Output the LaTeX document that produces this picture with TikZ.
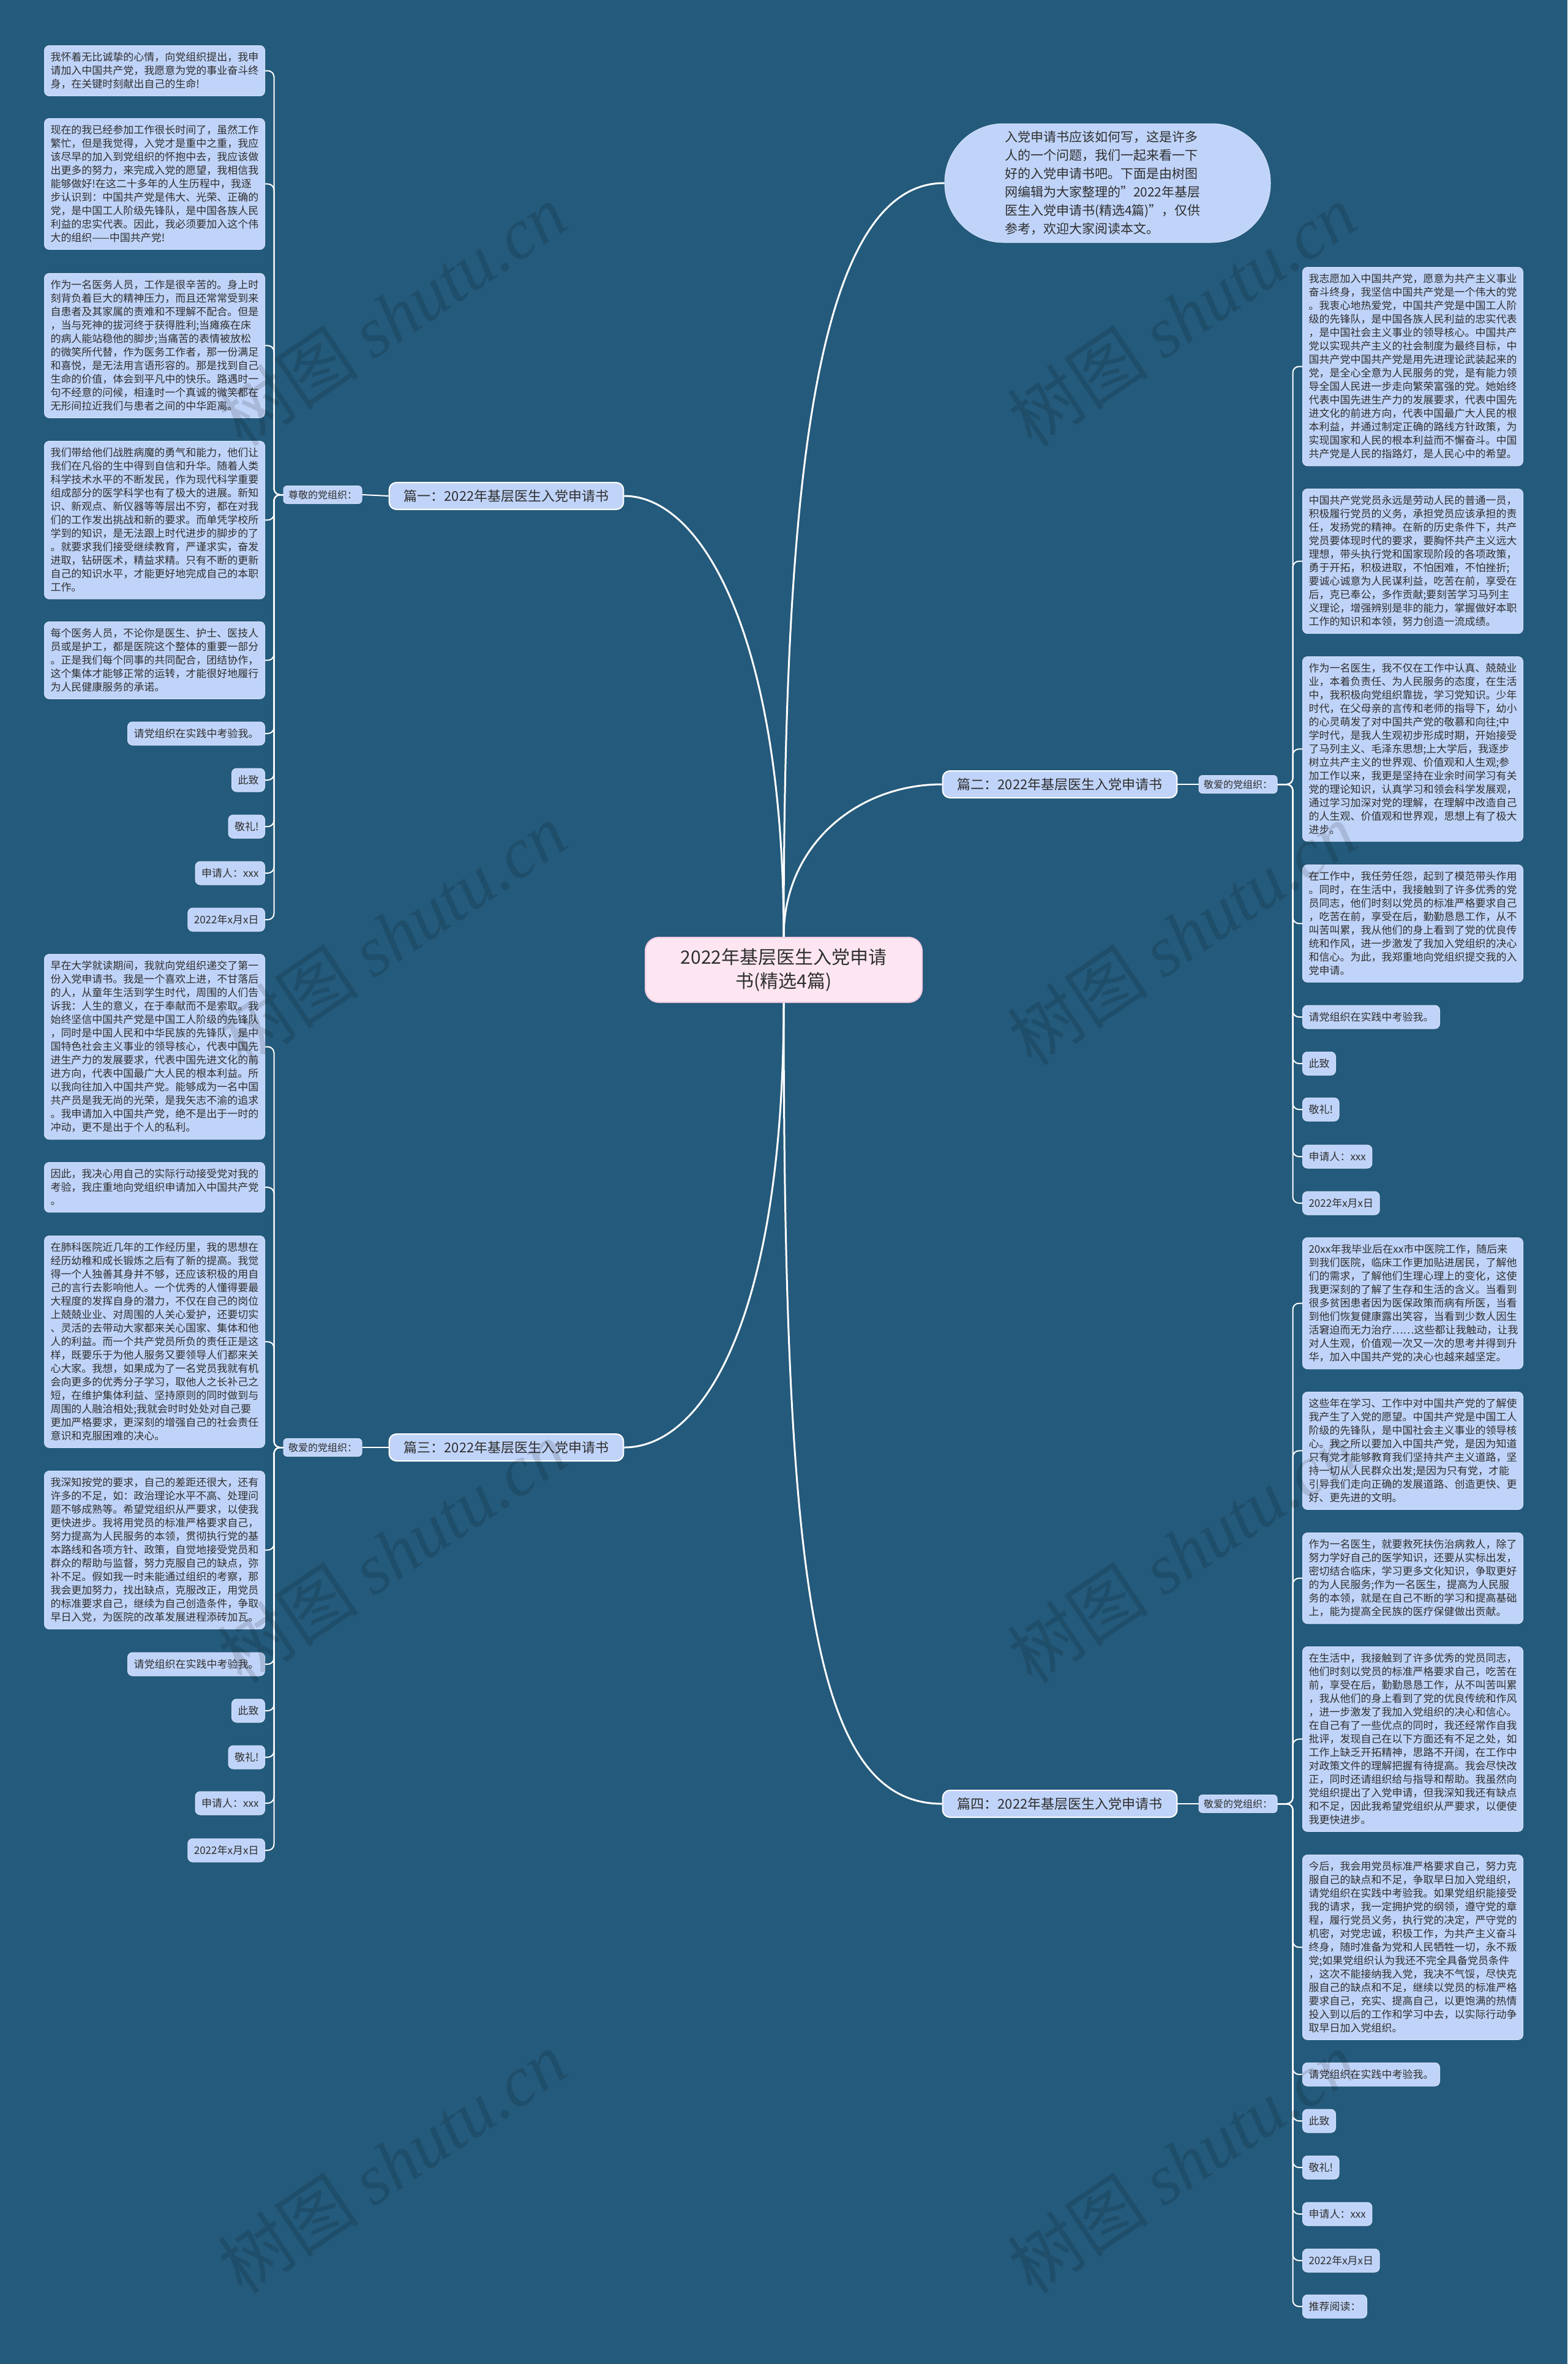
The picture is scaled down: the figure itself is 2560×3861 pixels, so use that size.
\documentclass[tikz,border=0pt]{standalone}
\usepackage{fontspec}
\setmainfont{Noto Sans CJK SC}
\newfontfamily\wmserif{Liberation Serif}
\definecolor{bgblue}{HTML}{245A7B}
\definecolor{boxblue}{HTML}{C0D4F9}
\definecolor{boxline}{HTML}{D3E1FB}
\definecolor{rootpink}{HTML}{FDE6F2}
\definecolor{rootedge}{HTML}{F3CBE0}
\definecolor{inkgray}{HTML}{2F2F2F}

\begin{document}
\begin{tikzpicture}[x=0.5pt, y=-0.5pt,
    textblock/.style={fill=boxblue, draw=boxline, line width=0.5pt, rounded corners=4pt,
      text=inkgray, font=\fontsize{8.5}{11}\selectfont, text width=170pt, align=left,
      inner xsep=5pt, inner ysep=5.5pt},
    closer/.style={fill=boxblue, draw=boxline, line width=0.5pt, rounded corners=4pt,
      text=inkgray, font=\fontsize{8.5}{11}\selectfont, inner xsep=5pt, inner ysep=3pt,
      minimum height=19pt},
    topic/.style={fill=boxblue, draw=white, line width=1pt, rounded corners=6pt,
      text=inkgray, font=\fontsize{11}{13}\selectfont, inner xsep=12pt, minimum height=22pt},
    dear/.style={fill=boxblue, draw=boxline, line width=0.5pt, rounded corners=3pt,
      text=inkgray, font=\fontsize{8}{10}\selectfont, inner xsep=4pt, inner ysep=2pt,
      minimum height=14.5pt},
    rootbox/.style={fill=rootpink, draw=rootedge, line width=1pt, rounded corners=11pt,
      text=inkgray, font=\fontsize{15}{19.5}\selectfont, align=center,
      minimum width=226pt, minimum height=53pt},
    introbox/.style={fill=boxblue, draw=boxline, line width=0.5pt, rounded corners=48pt,
      text=inkgray, font=\fontsize{10.5}{15}\selectfont, text width=168pt, align=left,
      minimum width=266pt, minimum height=97pt},
    stemline/.style={draw=white, line width=1.5pt},
    twigline/.style={draw=white, line width=1pt, rounded corners=5pt},
    wmark/.style={text=black, text opacity=0.13, rotate=34, font=\fontsize{58}{58}\selectfont}]

    % Background
    \path[fill=bgblue, use as bounding box] (0,0) rectangle (2560,3861);

    % Root and intro
    \node[rootbox] (root) at (1280,1584) {2022年基层医生入党申请\\书(精选4篇)};
    \node[introbox] (intro) at (1809,299) {入党申请书应该如何写，这是许多\\人的一个问题，我们一起来看一下\\好的入党申请书吧。下面是由树图\\网编辑为大家整理的"2022年基层\\医生入党申请书(精选4篇)"，仅供\\参考，欢迎大家阅读本文。};

    % Topics
    \node[topic] (part1) at (827,810) {篇一：2022年基层医生入党申请书};
    \node[topic] (part2) at (1731,1281) {篇二：2022年基层医生入党申请书};
    \node[topic] (part3) at (827,2364) {篇三：2022年基层医生入党申请书};
    \node[topic] (part4) at (1731,2946) {篇四：2022年基层医生入党申请书};

    \node[dear] (dear1) at (527,808) {尊敬的党组织：};
    \node[dear] (dear2) at (2022,1281) {敬爱的党组织：};
    \node[dear] (dear3) at (527,2364) {敬爱的党组织：};
    \node[dear] (dear4) at (2022,2946) {敬爱的党组织：};

    % Part one
    \node[textblock, anchor=north east] (para1a) at (433,74) {我怀着无比诚挚的心情，向党组织提出，我申\\请加入中国共产党，我愿意为党的事业奋斗终\\身，在关键时刻献出自己的生命!};
    \node[textblock, anchor=north east] (para1b) at (433,193) {现在的我已经参加工作很长时间了，虽然工作\\繁忙，但是我觉得，入党才是重中之重，我应\\该尽早的加入到党组织的怀抱中去，我应该做\\出更多的努力，来完成入党的愿望，我相信我\\能够做好!在这二十多年的人生历程中，我逐\\步认识到：中国共产党是伟大、光荣、正确的\\党，是中国工人阶级先锋队，是中国各族人民\\利益的忠实代表。因此，我必须要加入这个伟\\大的组织——中国共产党!};
    \node[textblock, anchor=north east] (para1c) at (433,446) {作为一名医务人员，工作是很辛苦的。身上时\\刻背负着巨大的精神压力，而且还常常受到来\\自患者及其家属的责难和不理解不配合。但是\\，当与死神的拔河终于获得胜利;当瘫痪在床\\的病人能站稳他的脚步;当痛苦的表情被放松\\的微笑所代替，作为医务工作者，那一份满足\\和喜悦，是无法用言语形容的。那是找到自己\\生命的价值，体会到平凡中的快乐。路遇时一\\句不经意的问候，相逢时一个真诚的微笑都在\\无形间拉近我们与患者之间的中华距离。};
    \node[textblock, anchor=north east] (para1d) at (433,720) {我们带给他们战胜病魔的勇气和能力，他们让\\我们在凡俗的生中得到自信和升华。随着人类\\科学技术水平的不断发民，作为现代科学重要\\组成部分的医学科学也有了极大的进展。新知\\识、新观点、新仪器等等层出不穷，都在对我\\们的工作发出挑战和新的要求。而单凭学校所\\学到的知识，是无法跟上时代进步的脚步的了\\。就要求我们接受继续教育，严谨求实，奋发\\进取，钻研医术，精益求精。只有不断的更新\\自己的知识水平，才能更好地完成自己的本职\\工作。};
    \node[textblock, anchor=north east] (para1e) at (433,1015) {每个医务人员，不论你是医生、护士、医技人\\员或是护工，都是医院这个整体的重要一部分\\。正是我们每个同事的共同配合，团结协作，\\这个集体才能够正常的运转，才能很好地履行\\为人民健康服务的承诺。};
    \node[closer, anchor=east] (exam1) at (433,1198) {请党组织在实践中考验我。};
    \node[closer, anchor=east] (cizhi1) at (433,1274) {此致};
    \node[closer, anchor=east] (jingli1) at (433,1350) {敬礼!};
    \node[closer, anchor=east] (sign1) at (433,1426) {申请人：xxx};
    \node[closer, anchor=east] (date1) at (433,1502) {2022年x月x日};

    % Part two
    \node[textblock, anchor=north west] (para2a) at (2127,436) {我志愿加入中国共产党，愿意为共产主义事业\\奋斗终身，我坚信中国共产党是一个伟大的党\\。我衷心地热爱党，中国共产党是中国工人阶\\级的先锋队，是中国各族人民利益的忠实代表\\，是中国社会主义事业的领导核心。中国共产\\党以实现共产主义的社会制度为最终目标，中\\国共产党中国共产党是用先进理论武装起来的\\党，是全心全意为人民服务的党，是有能力领\\导全国人民进一步走向繁荣富强的党。她始终\\代表中国先进生产力的发展要求，代表中国先\\进文化的前进方向，代表中国最广大人民的根\\本利益，并通过制定正确的路线方针政策，为\\实现国家和人民的根本利益而不懈奋斗。中国\\共产党是人民的指路灯，是人民心中的希望。};
    \node[textblock, anchor=north west] (para2b) at (2127,798) {中国共产党党员永远是劳动人民的普通一员，\\积极履行党员的义务，承担党员应该承担的责\\任，发扬党的精神。在新的历史条件下，共产\\党员要体现时代的要求，要胸怀共产主义远大\\理想，带头执行党和国家现阶段的各项政策，\\勇于开拓，积极进取，不怕困难，不怕挫折;\\要诚心诚意为人民谋利益，吃苦在前，享受在\\后，克已奉公，多作贡献;要刻苦学习马列主\\义理论，增强辨别是非的能力，掌握做好本职\\工作的知识和本领，努力创造一流成绩。};
    \node[textblock, anchor=north west] (para2c) at (2127,1072) {作为一名医生，我不仅在工作中认真、兢兢业\\业，本着负责任、为人民服务的态度，在生活\\中，我积极向党组织靠拢，学习党知识。少年\\时代，在父母亲的言传和老师的指导下，幼小\\的心灵萌发了对中国共产党的敬慕和向往;中\\学时代，是我人生观初步形成时期，开始接受\\了马列主义、毛泽东思想;上大学后，我逐步\\树立共产主义的世界观、价值观和人生观;参\\加工作以来，我更是坚持在业余时间学习有关\\党的理论知识，认真学习和领会科学发展观，\\通过学习加深对党的理解，在理解中改造自己\\的人生观、价值观和世界观，思想上有了极大\\进步。};
    \node[textblock, anchor=north west] (para2d) at (2127,1412) {在工作中，我任劳任怨，起到了模范带头作用\\。同时，在生活中，我接触到了许多优秀的党\\员同志，他们时刻以党员的标准严格要求自己\\，吃苦在前，享受在后，勤勤恳恳工作，从不\\叫苦叫累，我从他们的身上看到了党的优良传\\统和作风，进一步激发了我加入党组织的决心\\和信心。为此，我郑重地向党组织提交我的入\\党申请。};
    \node[closer, anchor=west] (exam2) at (2127,1661) {请党组织在实践中考验我。};
    \node[closer, anchor=west] (cizhi2) at (2127,1737) {此致};
    \node[closer, anchor=west] (jingli2) at (2127,1812) {敬礼!};
    \node[closer, anchor=west] (sign2) at (2127,1889) {申请人：xxx};
    \node[closer, anchor=west] (date2) at (2127,1965) {2022年x月x日};

    % Part three
    \node[textblock, anchor=north east] (para3a) at (433,1558) {早在大学就读期间，我就向党组织递交了第一\\份入党申请书。我是一个喜欢上进，不甘落后\\的人，从童年生活到学生时代，周围的人们告\\诉我：人生的意义，在于奉献而不是索取。我\\始终坚信中国共产党是中国工人阶级的先锋队\\，同时是中国人民和中华民族的先锋队，是中\\国特色社会主义事业的领导核心，代表中国先\\进生产力的发展要求，代表中国先进文化的前\\进方向，代表中国最广大人民的根本利益。所\\以我向往加入中国共产党。能够成为一名中国\\共产员是我无尚的光荣，是我矢志不渝的追求\\。我申请加入中国共产党，绝不是出于一时的\\冲动，更不是出于个人的私利。};
    \node[textblock, anchor=north east] (para3b) at (433,1898) {因此，我决心用自己的实际行动接受党对我的\\考验，我庄重地向党组织申请加入中国共产党\\。};
    \node[textblock, anchor=north east] (para3c) at (433,2018) {在肺科医院近几年的工作经历里，我的思想在\\经历幼稚和成长锻炼之后有了新的提高。我觉\\得一个人独善其身并不够，还应该积极的用自\\己的言行去影响他人。一个优秀的人懂得要最\\大程度的发挥自身的潜力，不仅在自己的岗位\\上兢兢业业、对周围的人关心爱护，还要切实\\、灵活的去带动大家都来关心国家、集体和他\\人的利益。而一个共产党员所负的责任正是这\\样，既要乐于为他人服务又要领导人们都来关\\心大家。我想，如果成为了一名党员我就有机\\会向更多的优秀分子学习，取他人之长补己之\\短，在维护集体利益、坚持原则的同时做到与\\周围的人融洽相处;我就会时时处处对自己要\\更加严格要求，更深刻的增强自己的社会责任\\意识和克服困难的决心。};
    \node[textblock, anchor=north east] (para3d) at (433,2402) {我深知按党的要求，自己的差距还很大，还有\\许多的不足，如：政治理论水平不高、处理问\\题不够成熟等。希望党组织从严要求，以使我\\更快进步。我将用党员的标准严格要求自己，\\努力提高为人民服务的本领，贯彻执行党的基\\本路线和各项方针、政策，自觉地接受党员和\\群众的帮助与监督，努力克服自己的缺点，弥\\补不足。假如我一时未能通过组织的考察，那\\我会更加努力，找出缺点，克服改正，用党员\\的标准要求自己，继续为自己创造条件，争取\\早日入党，为医院的改革发展进程添砖加瓦。};
    \node[closer, anchor=east] (exam3) at (433,2718) {请党组织在实践中考验我。};
    \node[closer, anchor=east] (cizhi3) at (433,2794) {此致};
    \node[closer, anchor=east] (jingli3) at (433,2870) {敬礼!};
    \node[closer, anchor=east] (sign3) at (433,2945) {申请人：xxx};
    \node[closer, anchor=east] (date3) at (433,3022) {2022年x月x日};

    % Part four
    \node[textblock, anchor=north west] (para4a) at (2127,2021) {20xx年我毕业后在xx市中医院工作，随后来\\到我们医院，临床工作更加贴进居民，了解他\\们的需求，了解他们生理心理上的变化，这使\\我更深刻的了解了生存和生活的含义。当看到\\很多贫困患者因为医保政策而病有所医，当看\\到他们恢复健康露出笑容，当看到少数人因生\\活窘迫而无力治疗……这些都让我触动，让我\\对人生观，价值观一次又一次的思考并得到升\\华，加入中国共产党的决心也越来越坚定。};
    \node[textblock, anchor=north west] (para4b) at (2127,2273) {这些年在学习、工作中对中国共产党的了解使\\我产生了入党的愿望。中国共产党是中国工人\\阶级的先锋队，是中国社会主义事业的领导核\\心。我之所以要加入中国共产党，是因为知道\\只有党才能够教育我们坚持共产主义道路，坚\\持一切从人民群众出发;是因为只有党，才能\\引导我们走向正确的发展道路、创造更快、更\\好、更先进的文明。};
    \node[textblock, anchor=north west] (para4c) at (2127,2503) {作为一名医生，就要救死扶伤治病救人，除了\\努力学好自己的医学知识，还要从实标出发，\\密切结合临床，学习更多文化知识，争取更好\\的为人民服务;作为一名医生，提高为人民服\\务的本领，就是在自己不断的学习和提高基础\\上，能为提高全民族的医疗保健做出贡献。};
    \node[textblock, anchor=north west] (para4d) at (2127,2689) {在生活中，我接触到了许多优秀的党员同志，\\他们时刻以党员的标准严格要求自己，吃苦在\\前，享受在后，勤勤恳恳工作，从不叫苦叫累\\，我从他们的身上看到了党的优良传统和作风\\，进一步激发了我加入党组织的决心和信心。\\在自己有了一些优点的同时，我还经常作自我\\批评，发现自己在以下方面还有不足之处，如\\工作上缺乏开拓精神，思路不开阔，在工作中\\对政策文件的理解把握有待提高。我会尽快改\\正，同时还请组织给与指导和帮助。我虽然向\\党组织提出了入党申请，但我深知我还有缺点\\和不足，因此我希望党组织从严要求，以便使\\我更快进步。};
    \node[textblock, anchor=north west] (para4e) at (2127,3029) {今后，我会用党员标准严格要求自己，努力克\\服自己的缺点和不足，争取早日加入党组织，\\请党组织在实践中考验我。如果党组织能接受\\我的请求，我一定拥护党的纲领，遵守党的章\\程，履行党员义务，执行党的决定，严守党的\\机密，对党忠诚，积极工作，为共产主义奋斗\\终身，随时准备为党和人民牺牲一切，永不叛\\党;如果党组织认为我还不完全具备党员条件\\，这次不能接纳我入党，我决不气馁，尽快克\\服自己的缺点和不足，继续以党员的标准严格\\要求自己，充实、提高自己，以更饱满的热情\\投入到以后的工作和学习中去，以实际行动争\\取早日加入党组织。};
    \node[closer, anchor=west] (exam4) at (2127,3388) {请党组织在实践中考验我。};
    \node[closer, anchor=west] (cizhi4) at (2127,3464) {此致};
    \node[closer, anchor=west] (jingli4) at (2127,3540) {敬礼!};
    \node[closer, anchor=west] (sign4) at (2127,3616) {申请人：xxx};
    \node[closer, anchor=west] (date4) at (2127,3692) {2022年x月x日};
    \node[closer, anchor=west] (reading4) at (2127,3767) {推荐阅读：};

    % Stems from the root
    \draw[stemline] (root.north) .. controls (1280,800) and (1330,298) .. (intro.west);
    \draw[stemline] (root.north) .. controls (1280,1050) and (1150,810) .. (part1.east);
    \draw[stemline] (root.north) .. controls (1280,1380) and (1400,1281) .. (part2.west);
    \draw[stemline] (root.south) .. controls (1280,2150) and (1150,2364) .. (part3.east);
    \draw[stemline] (root.south) .. controls (1280,2600) and (1330,2946) .. (part4.west);

    \draw[twigline] (part1.west) -- (dear1.east);
    \draw[twigline] (part2.east) -- (dear2.west);
    \draw[twigline] (part3.west) -- (dear3.east);
    \draw[twigline] (part4.east) -- (dear4.west);

    % Twigs, part one
    \draw[twigline] (dear1.west) -- ++(-15,0) |- (para1a.east);
    \draw[twigline] (dear1.west) -- ++(-15,0) |- (para1b.east);
    \draw[twigline] (dear1.west) -- ++(-15,0) |- (para1c.east);
    \draw[twigline] (dear1.west) -- ++(-15,0) |- (para1d.east);
    \draw[twigline] (dear1.west) -- ++(-15,0) |- (para1e.east);
    \draw[twigline] (dear1.west) -- ++(-15,0) |- (exam1.east);
    \draw[twigline] (dear1.west) -- ++(-15,0) |- (cizhi1.east);
    \draw[twigline] (dear1.west) -- ++(-15,0) |- (jingli1.east);
    \draw[twigline] (dear1.west) -- ++(-15,0) |- (sign1.east);
    \draw[twigline] (dear1.west) -- ++(-15,0) |- (date1.east);

    % Twigs, part two
    \draw[twigline] (dear2.east) -- ++(25,0) |- (para2a.west);
    \draw[twigline] (dear2.east) -- ++(25,0) |- (para2b.west);
    \draw[twigline] (dear2.east) -- ++(25,0) |- (para2c.west);
    \draw[twigline] (dear2.east) -- ++(25,0) |- (para2d.west);
    \draw[twigline] (dear2.east) -- ++(25,0) |- (exam2.west);
    \draw[twigline] (dear2.east) -- ++(25,0) |- (cizhi2.west);
    \draw[twigline] (dear2.east) -- ++(25,0) |- (jingli2.west);
    \draw[twigline] (dear2.east) -- ++(25,0) |- (sign2.west);
    \draw[twigline] (dear2.east) -- ++(25,0) |- (date2.west);

    % Twigs, part three
    \draw[twigline] (dear3.west) -- ++(-15,0) |- (para3a.east);
    \draw[twigline] (dear3.west) -- ++(-15,0) |- (para3b.east);
    \draw[twigline] (dear3.west) -- ++(-15,0) |- (para3c.east);
    \draw[twigline] (dear3.west) -- ++(-15,0) |- (para3d.east);
    \draw[twigline] (dear3.west) -- ++(-15,0) |- (exam3.east);
    \draw[twigline] (dear3.west) -- ++(-15,0) |- (cizhi3.east);
    \draw[twigline] (dear3.west) -- ++(-15,0) |- (jingli3.east);
    \draw[twigline] (dear3.west) -- ++(-15,0) |- (sign3.east);
    \draw[twigline] (dear3.west) -- ++(-15,0) |- (date3.east);

    % Twigs, part four
    \draw[twigline] (dear4.east) -- ++(25,0) |- (para4a.west);
    \draw[twigline] (dear4.east) -- ++(25,0) |- (para4b.west);
    \draw[twigline] (dear4.east) -- ++(25,0) |- (para4c.west);
    \draw[twigline] (dear4.east) -- ++(25,0) |- (para4d.west);
    \draw[twigline] (dear4.east) -- ++(25,0) |- (para4e.west);
    \draw[twigline] (dear4.east) -- ++(25,0) |- (exam4.west);
    \draw[twigline] (dear4.east) -- ++(25,0) |- (cizhi4.west);
    \draw[twigline] (dear4.east) -- ++(25,0) |- (jingli4.west);
    \draw[twigline] (dear4.east) -- ++(25,0) |- (sign4.west);
    \draw[twigline] (dear4.east) -- ++(25,0) |- (date4.west);
    \draw[twigline] (dear4.east) -- ++(25,0) |- (reading4.west);

    % Watermarks
    \node[wmark] (wm1) at (640,515) {树图 {\wmserif\itshape shutu.cn}};
    \node[wmark] (wm2) at (1930,515) {树图 {\wmserif\itshape shutu.cn}};
    \node[wmark] (wm3) at (640,1526) {树图 {\wmserif\itshape shutu.cn}};
    \node[wmark] (wm4) at (1930,1526) {树图 {\wmserif\itshape shutu.cn}};
    \node[wmark] (wm5) at (640,2535) {树图 {\wmserif\itshape shutu.cn}};
    \node[wmark] (wm6) at (1930,2535) {树图 {\wmserif\itshape shutu.cn}};
    \node[wmark] (wm7) at (640,3532) {树图 {\wmserif\itshape shutu.cn}};
    \node[wmark] (wm8) at (1930,3532) {树图 {\wmserif\itshape shutu.cn}};
\end{tikzpicture}
\end{document}
